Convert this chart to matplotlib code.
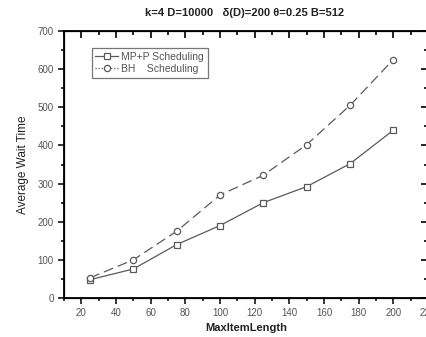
import matplotlib
matplotlib.use('Agg')
import matplotlib.pyplot as plt
from matplotlib.ticker import MultipleLocator
from matplotlib.lines import Line2D

max_item_length = [25, 50, 75, 100, 125, 150, 175, 200]
mpp_wait = [48, 76, 140, 190, 250, 292, 352, 440]
bh_wait = [53, 100, 175, 270, 322, 402, 505, 625]

plt.rcParams['font.family'] = ['Liberation Sans', 'DejaVu Sans']

fig = plt.figure(figsize=(4.27, 3.37), dpi=100)
ax = fig.add_axes([64/427, 1 - 298/337, 364/427, 267/337])

line_col = '#5a5a5a'
mk = dict(markersize=4.5, markerfacecolor='white', markeredgecolor=line_col, markeredgewidth=0.9)
ax.plot(max_item_length, mpp_wait, color=line_col, linewidth=0.9, marker='s', **mk)
ax.plot(max_item_length, bh_wait, color=line_col, linewidth=0.9, dashes=(8, 4), marker='o', **mk)

ax.set_xlim(10, 220)
ax.set_ylim(0, 700)
ax.xaxis.set_major_locator(MultipleLocator(20))
ax.xaxis.set_minor_locator(MultipleLocator(10))
ax.yaxis.set_major_locator(MultipleLocator(100))
ax.yaxis.set_minor_locator(MultipleLocator(50))
ax.tick_params(which='both', direction='out', labelsize=7, labelcolor='#555555', width=1.1)
ax.tick_params(which='major', length=4)
ax.tick_params(which='minor', length=2.5)
for s in ax.spines.values():
    s.set_linewidth(1.3)
    s.set_color('black')

# inward ticks on top and right via twin axes
axt = ax.twiny()
axt.set_xlim(ax.get_xlim())
axt.xaxis.set_major_locator(MultipleLocator(20))
axt.xaxis.set_minor_locator(MultipleLocator(10))
axt.tick_params(which='both', direction='in', width=1.2, labeltop=False)
axt.tick_params(which='major', length=5)
axt.tick_params(which='minor', length=3)
axr = ax.twinx()
axr.set_ylim(ax.get_ylim())
axr.yaxis.set_major_locator(MultipleLocator(100))
axr.yaxis.set_minor_locator(MultipleLocator(50))
axr.tick_params(which='both', direction='in', width=1.2, labelright=False)
axr.tick_params(which='major', length=5)
axr.tick_params(which='minor', length=3)

ax.set_xlabel('MaxItemLength', fontsize=8, fontweight='bold', color='#222222', labelpad=3)
ax.set_ylabel('Average Wait Time', fontsize=8.5, color='#222222', labelpad=6)
fig.text(245/427, 1 - 13/337, 'k=4 D=10000   \u03b4(D)=200 \u03b8=0.25 B=512', fontsize=8,
         fontweight='bold', color='#222222', ha='center', va='center')

handles = [
    Line2D([], [], color=line_col, linewidth=0.9, marker='s', **mk),
    Line2D([], [], color=line_col, linewidth=0.9, linestyle=(0, (1, 1.5)), marker='o', **mk),
]
leg = axr.legend(handles, ['MP+P Scheduling', 'BH    Scheduling'], loc='upper left',
                 bbox_to_anchor=(0.062, 0.955), fontsize=7.5, frameon=True,
                 fancybox=False, handlelength=2.2, handletextpad=0.3, borderpad=0.35,
                 labelspacing=0.2, labelcolor='#555555')
leg.get_frame().set_edgecolor('#555555')
leg.get_frame().set_linewidth(0.9)

fig.savefig('out.png', dpi=100)
